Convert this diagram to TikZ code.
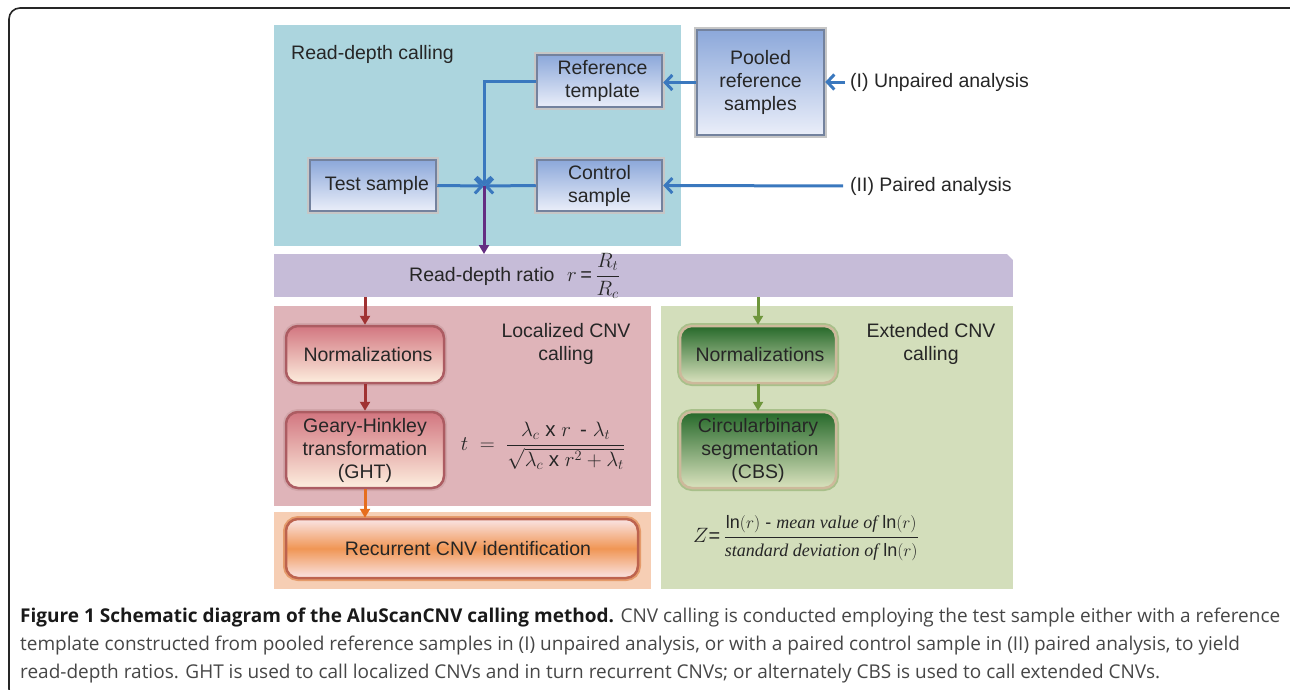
\documentclass[tikz,border=0pt]{standalone}
\usepackage{fontspec}
\usepackage{amsmath}
\setmainfont{Liberation Sans}
\newfontfamily\capfont{Open Sans}
\newfontfamily\serfont{Liberation Serif}
\usetikzlibrary{arrows.meta,calc}
\definecolor{bluebg}{RGB}{172,213,222}
\definecolor{bluearrow}{RGB}{58,120,190}
\definecolor{bluetop}{RGB}{140,168,218}
\definecolor{bluebot}{RGB}{234,238,249}
\definecolor{blueedge}{RGB}{115,130,158}
\definecolor{purpleband}{RGB}{198,188,216}
\definecolor{purplearrow}{RGB}{100,45,130}
\definecolor{redbg}{RGB}{223,180,185}
\definecolor{orangebg}{RGB}{246,206,180}
\definecolor{greenbg}{RGB}{211,222,187}
\definecolor{redarrow}{RGB}{160,50,50}
\definecolor{orangearrow}{RGB}{230,110,30}
\definecolor{greenarrow}{RGB}{110,150,60}
\definecolor{redtop}{RGB}{210,118,128}
\definecolor{redbot}{RGB}{253,238,222}
\definecolor{rededge}{RGB}{172,92,98}
\definecolor{oranmid}{RGB}{240,150,85}
\definecolor{orantop}{RGB}{250,228,228}
\definecolor{greentop}{RGB}{38,105,42}
\definecolor{greenbot}{RGB}{218,226,190}
\definecolor{greenedge}{RGB}{205,185,155}
\definecolor{textc}{RGB}{38,38,38}
\definecolor{capc}{RGB}{70,70,70}
\newcommand\diafont{\fontsize{19.5}{23}\selectfont}
\tikzset{
  region/.style={inner sep=0pt, outer sep=0pt},
  lbl/.style={inner sep=0pt, font=\diafont, text=textc, align=center},
  bluebox/.style={draw=blueedge, line width=2.5pt, top color=bluetop, bottom color=bluebot,
     preaction={draw=gray!45, line width=5.5pt}, align=center, inner sep=0pt,
     font=\diafont, text=textc},
  redbox/.style={draw=rededge, line width=2.5pt, rounded corners=12pt, top color=redtop, bottom color=redbot,
     preaction={draw=rededge!55, line width=6pt}, align=center, inner sep=0pt,
     font=\diafont, text=textc},
  orbox/.style={draw=rededge!80!orange, line width=2.5pt, rounded corners=12pt,
     shading=axis, top color=orantop, bottom color=orantop, middle color=oranmid,
     preaction={draw=rededge!45!orange!70, line width=6pt}, align=center, inner sep=0pt,
     font=\diafont, text=textc},
  greenbox/.style={draw=greenedge, line width=2.5pt, rounded corners=12pt, top color=greentop, bottom color=greenbot,
     preaction={draw=greenarrow!60, line width=6pt}, align=center, inner sep=0pt,
     font=\diafont, text=textc},
  bluel/.style={draw=bluearrow, line width=3pt, -{Straight Barb[length=7pt,width=15pt]}},
  colarrow/.style={draw=#1, line width=3pt, -{Triangle[length=9pt,width=10pt]}},
  capstyle/.style={inner sep=0pt, font=\capfont\fontsize{19}{23}\selectfont, text=capc}
}
\begin{document}
\begin{tikzpicture}[x=1pt,y=-1pt]
\useasboundingbox (0,0) rectangle (1290,689);
% frame
\draw[line width=1.6pt, rounded corners=11pt, draw=black!85] (9,8) rectangle (1302,700);
% regions
\node[region, fill=bluebg, minimum width=407, minimum height=221] (bluereg) at (477.5,135.5) {};
\node[region, fill=redbg, minimum width=377, minimum height=200] (redreg) at (462.5,406) {};
\node[region, fill=orangebg, minimum width=377, minimum height=77] (orreg) at (462.5,550.5) {};
\node[region, fill=greenbg, minimum width=352, minimum height=283] (greenreg) at (837,447.5) {};
\node[region, fill=purpleband, minimum width=739, minimum height=43] (band) at (643.5,275.5) {};
\fill[white] (1006,253) -- (1014,253) -- (1014,261) -- cycle;
% region labels
\node[lbl, anchor=west] (rdc) at (291,54) {Read-depth calling};
\node[lbl] (loc) at (566,344) {Localized CNV\\calling};
\node[lbl] (ext) at (931,344) {Extended CNV\\calling};
\node[lbl, anchor=west] (unp) at (850,82) {(I) Unpaired analysis};
\node[lbl, anchor=west] (pair) at (850,186) {(II) Paired analysis};
% blue boxes
\node[bluebox, minimum width=125, minimum height=52] (ref) at (599.5,81) {\hspace*{6pt}Reference\\\hspace*{6pt}template};
\node[bluebox, minimum width=127, minimum height=105] (pool) at (760.5,82.5) {Pooled\\reference\\samples};
\node[bluebox, minimum width=126, minimum height=51] (test) at (373,185.5) {\hspace*{8pt}Test sample};
\node[bluebox, minimum width=125, minimum height=51] (ctrl) at (599.5,185.5) {Control\\sample};
\coordinate (J) at (484,186);
% band text
\node[lbl, anchor=west] (rdr) at (409,276) {Read-depth ratio};
\node[inner sep=0pt, anchor=west, text=textc] (rf) at (567,276) {\fontsize{20}{22}\selectfont$r\,\text{=}\,\dfrac{R_t}{R_c}$};
% red / green boxes
\node[redbox, minimum width=158, minimum height=57] (rn) at (365,354.5) {\hspace*{6pt}Normalizations};
\node[redbox, minimum width=158, minimum height=76] (ght) at (365,450) {Geary-Hinkley\\transformation\\(GHT)};
\node[orbox, minimum width=352, minimum height=59] (rec) at (462,548.5) {\hspace*{12pt}Recurrent CNV identification};
\node[greenbox, minimum width=156, minimum height=57] (gn) at (758,354.5) {\hspace*{4pt}Normalizations};
\node[greenbox, minimum width=156, minimum height=76] (cbs) at (758,450) {Circularbinary\\\hspace*{4pt}segmentation\\(CBS)};
% formulas
\node[inner sep=0pt, text=textc] (tf) at (543,446) {\fontsize{20.5}{24}\selectfont$t\;=\;\dfrac{\lambda_c\;\text{x}\;r\;\,\text{-}\;\lambda_t}{\sqrt{\lambda_c\;\text{x}\;r^2+\lambda_t}}$};
\node[inner sep=0pt, text=textc] (zf) at (806,538) {\fontsize{20}{22}\selectfont$Z\text{=}\,\dfrac{\text{\fontsize{18}{20}\selectfont ln$(r)$ - {\serfont\itshape mean value of} ln$(r)$}}{\text{\fontsize{18}{20}\selectfont{\serfont\itshape standard deviation of} ln$(r)$}}$};
% connectors
\draw[bluel] (ref.west) -| (J);
\draw[bluel] (test.east) -- (J);
\draw[bluel] (ctrl.west) -- (J);
\draw[bluel] (pool.west) -- (pool.west -| ref.east);
\draw[bluel, shorten <=5pt] (unp.west) -- (unp.west -| pool.east);
\draw[bluel, shorten <=7pt] (pair.west) -- (ctrl.east);
\draw[colarrow=purplearrow] (J) -- (J |- band.north);
\draw[colarrow=redarrow] (band.south -| rn.north) -- (rn.north);
\draw[colarrow=redarrow] (rn.south) -- (ght.north);
\draw[colarrow=orangearrow] (ght.south) -- (rec.north -| ght.south);
\draw[colarrow=greenarrow] (band.south -| gn.north) -- (gn.north);
\draw[colarrow=greenarrow] (gn.south) -- (cbs.north);
% caption
\node[capstyle, anchor=base west] (c1) at (20,622) {{\bfseries\color{black!90}Figure 1 Schematic diagram of the AluScanCNV calling method.} CNV calling is conducted employing the test sample either with a reference};
\node[capstyle, anchor=base west] (c2) at (20,650) {template constructed from pooled reference samples in (I) unpaired analysis, or with a paired control sample in (II) paired analysis, to yield};
\node[capstyle, anchor=base west] (c3) at (20,678) {read-depth ratios. GHT is used to call localized CNVs and in turn recurrent CNVs; or alternately CBS is used to call extended CNVs.};
\end{tikzpicture}
\end{document}
